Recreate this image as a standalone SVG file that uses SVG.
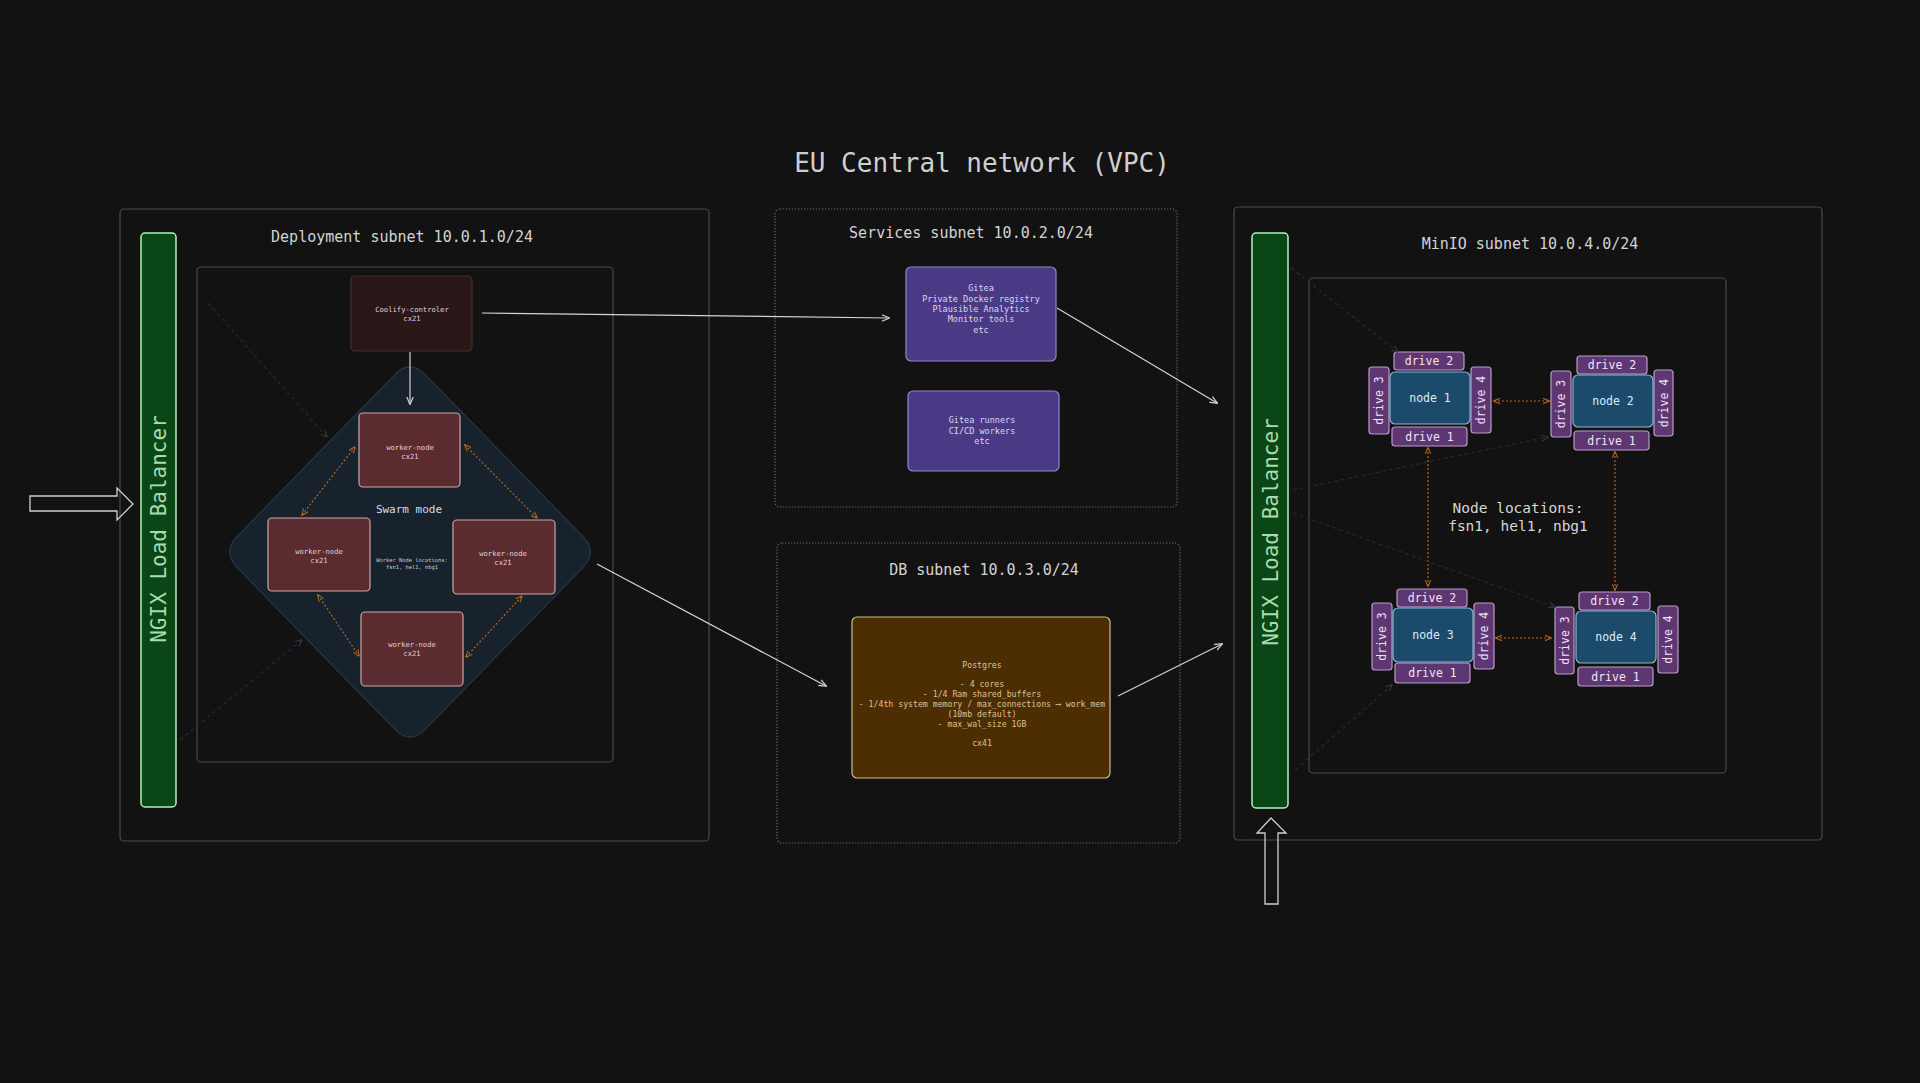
<svg xmlns="http://www.w3.org/2000/svg" width="1920" height="1083" viewBox="0 0 1920 1083">
<defs>
<style>
text{font-family:"DejaVu Sans Mono","Liberation Mono",monospace;text-anchor:middle;dominant-baseline:central}
.title{font-size:26px;fill:#cfcfcf}
.sub{font-size:15px;fill:#d2d2d2}
.box{fill:#121212;stroke:#4a4a4a;stroke-width:1.2}
.dotbox{fill:#121212;stroke:#6a6a6a;stroke-width:1.2;stroke-dasharray:1.2 1.8}
.lb{fill:#0b4716;stroke:#b2f2bb;stroke-width:1.5}
.lbt{font-size:21px;fill:#a6dcae}
.coolify{fill:#2a1718;stroke:#4d2a2c;stroke-width:1.2}
.worker{fill:#5a2b2f;stroke:#c9a7a9;stroke-width:1.2}
.wt{font-size:7.2px;fill:#e6cfd0}
.svc{fill:#4a3a86;stroke:#9486c6;stroke-width:1.2}
.st{font-size:8.5px;fill:#ddd5f5}
.pg{fill:#4d2e03;stroke:#cdbb8e;stroke-width:1.2}
.pt{font-size:8.2px;fill:#dcc38c}
.drive{fill:#5e3672;stroke:#b99bc9;stroke-width:1.2}
.dt{font-size:11.5px;fill:#f2e4f4}
.node{fill:#1b4a6b;stroke:#8cb5d2;stroke-width:1.2}
.nt{font-size:11.5px;fill:#dbeaf6}
.conn{fill:none;stroke:#d4d4d4;stroke-width:1.2}
.dash{fill:none;stroke:#b5651d;stroke-width:1.2;stroke-dasharray:2 2}
.faint{fill:none;stroke:#222a32;stroke-width:1.2;stroke-dasharray:4 3}
.block{fill:none;stroke:#d0d0d0;stroke-width:1.3}
</style>
<marker id="ah" viewBox="0 0 10 10" refX="9" refY="5" markerWidth="8" markerHeight="8" orient="auto-start-reverse" markerUnits="userSpaceOnUse">
<path d="M0,1 L10,5 L0,9" fill="none" stroke="#d4d4d4" stroke-width="1.5"/>
</marker>
<marker id="oh" viewBox="0 0 10 10" refX="9" refY="5" markerWidth="7" markerHeight="7" orient="auto-start-reverse" markerUnits="userSpaceOnUse">
<path d="M0,1 L10,5 L0,9" fill="none" stroke="#b5651d" stroke-width="1.5"/>
</marker>
<marker id="fh" viewBox="0 0 10 10" refX="9" refY="5" markerWidth="7" markerHeight="7" orient="auto-start-reverse" markerUnits="userSpaceOnUse">
<path d="M0,1 L10,5 L0,9" fill="none" stroke="#2c3e50" stroke-width="1.5"/>
</marker>
</defs>
<rect x="0" y="0" width="1920" height="1083" fill="#121212"/>

<text class="title" x="982" y="163">EU Central network (VPC)</text>

<g id="deployment-subnet">
<rect class="box" x="120" y="209" width="589" height="632" rx="4"/>
<text class="sub" x="402" y="237">Deployment subnet 10.0.1.0/24</text>
<rect class="box" x="197" y="267" width="416" height="495" rx="4"/>
</g>

<g id="lb-left">
<rect class="lb" x="141" y="233" width="35" height="574" rx="4"/>
<text class="lbt" transform="translate(159,529) rotate(-90)">NGIX Load Balancer</text>
</g>

<g id="swarm">
<path d="M 394.6 374.8 Q 410 359 425.4 374.8 L 582.6 536.2 Q 598 552 582.6 567.8 L 425.4 729.2 Q 410 745 394.6 729.2 L 237.4 567.8 Q 222 552 237.4 536.2 Z" fill="#17222c" stroke="#283845" stroke-width="1.2"/>
<text x="409" y="509" style="font-size:11px;fill:#d8dde2">Swarm mode</text>
<text x="412" y="560" style="font-size:5.4px;fill:#c4ccd4">Worker Node locations:</text>
<text x="412" y="567" style="font-size:5.4px;fill:#c4ccd4">fsn1, hel1, nbg1</text>
</g>

<g id="coolify-controller">
<rect class="coolify" x="351" y="276" width="121" height="75" rx="4"/>
<text class="wt" x="412" y="309">Coolify-controler</text>
<text class="wt" x="412" y="318">cx21</text>
</g>

<g id="worker-top">
<rect class="worker" x="359" y="413" width="101" height="74" rx="4"/>
<text class="wt" x="410" y="447">worker-node</text>
<text class="wt" x="410" y="456">cx21</text>
</g>
<g id="worker-left">
<rect class="worker" x="268" y="518" width="102" height="73" rx="4"/>
<text class="wt" x="319" y="551">worker-node</text>
<text class="wt" x="319" y="560">cx21</text>
</g>
<g id="worker-right">
<rect class="worker" x="453" y="520" width="102" height="74" rx="4"/>
<text class="wt" x="503" y="553">worker-node</text>
<text class="wt" x="503" y="562">cx21</text>
</g>
<g id="worker-bottom">
<rect class="worker" x="361" y="612" width="102" height="74" rx="4"/>
<text class="wt" x="412" y="644">worker-node</text>
<text class="wt" x="412" y="653">cx21</text>
</g>

<g id="services-subnet">
<rect class="dotbox" x="775" y="209" width="402" height="298" rx="5"/>
<text class="sub" x="971" y="233">Services subnet 10.0.2.0/24</text>
</g>
<g id="gitea">
<rect class="svc" x="906" y="267" width="150" height="94" rx="5"/>
<text class="st" x="981" y="288">Gitea</text>
<text class="st" x="981" y="298.5">Private Docker registry</text>
<text class="st" x="981" y="308.5">Plausible Analytics</text>
<text class="st" x="981" y="318.5">Monitor tools</text>
<text class="st" x="981" y="329.5">etc</text>
</g>
<g id="gitea-runners">
<rect class="svc" x="908" y="391" width="151" height="80" rx="5"/>
<text class="st" x="982" y="420">Gitea runners</text>
<text class="st" x="982" y="431">CI/CD workers</text>
<text class="st" x="982" y="441">etc</text>
</g>

<g id="db-subnet">
<rect class="dotbox" x="777" y="543" width="403" height="300" rx="5"/>
<text class="sub" x="984" y="570">DB subnet 10.0.3.0/24</text>
</g>
<g id="postgres">
<rect class="pg" x="852" y="617" width="258" height="161" rx="5"/>
<text class="pt" x="982" y="665">Postgres</text>
<text class="pt" x="982" y="684">- 4 cores</text>
<text class="pt" x="982" y="694">- 1/4 Ram shared_buffers</text>
<text class="pt" x="982" y="704">- 1/4th system memory / max_connections ⟶ work_mem</text>
<text class="pt" x="982" y="713.5">(10mb default)</text>
<text class="pt" x="982" y="723.5">- max_wal_size 1GB</text>
<text class="pt" x="982" y="742.5">cx41</text>
</g>

<g id="minio-subnet">
<rect class="box" x="1234" y="207" width="588" height="633" rx="4"/>
<text class="sub" x="1530" y="244">MinIO subnet 10.0.4.0/24</text>
<rect class="box" x="1309" y="278" width="417" height="495" rx="4"/>
<text x="1518" y="508" style="font-size:14.5px;fill:#d6d6d6">Node locations:</text>
<text x="1518" y="526" style="font-size:14.5px;fill:#d6d6d6">fsn1, hel1, nbg1</text>
</g>

<g id="lb-right">
<rect class="lb" x="1252" y="233" width="36" height="575" rx="4"/>
<text class="lbt" transform="translate(1271,532) rotate(-90)">NGIX Load Balancer</text>
</g>

<g id="minio-node-1">
<rect class="drive" x="1394" y="352" width="70" height="18" rx="3"/>
<text class="dt" x="1429" y="361">drive 2</text>
<rect class="drive" x="1369" y="367" width="20" height="67" rx="3"/>
<text class="dt" transform="translate(1379,400.5) rotate(-90)">drive 3</text>
<rect class="drive" x="1471" y="367" width="20" height="66" rx="3"/>
<text class="dt" transform="translate(1481,400) rotate(-90)">drive 4</text>
<rect class="drive" x="1392" y="427" width="75" height="19" rx="3"/>
<text class="dt" x="1429.5" y="436.5">drive 1</text>
<rect class="node" x="1390" y="372" width="80" height="52" rx="5"/>
<text class="nt" x="1430" y="398">node 1</text>
</g>

<g id="minio-node-2">
<rect class="drive" x="1577" y="356" width="70" height="18" rx="3"/>
<text class="dt" x="1612" y="365">drive 2</text>
<rect class="drive" x="1551" y="371" width="20" height="66" rx="3"/>
<text class="dt" transform="translate(1561,404) rotate(-90)">drive 3</text>
<rect class="drive" x="1654" y="370" width="19" height="66" rx="3"/>
<text class="dt" transform="translate(1663.5,403) rotate(-90)">drive 4</text>
<rect class="drive" x="1574" y="431" width="75" height="19" rx="3"/>
<text class="dt" x="1611.5" y="440.5">drive 1</text>
<rect class="node" x="1573" y="375" width="80" height="52" rx="5"/>
<text class="nt" x="1613" y="401">node 2</text>
</g>

<g id="minio-node-3">
<rect class="drive" x="1397" y="589" width="70" height="18" rx="3"/>
<text class="dt" x="1432" y="598">drive 2</text>
<rect class="drive" x="1372" y="603" width="20" height="67" rx="3"/>
<text class="dt" transform="translate(1382,636.5) rotate(-90)">drive 3</text>
<rect class="drive" x="1474" y="603" width="20" height="66" rx="3"/>
<text class="dt" transform="translate(1484,636) rotate(-90)">drive 4</text>
<rect class="drive" x="1395" y="663" width="75" height="20" rx="3"/>
<text class="dt" x="1432.5" y="673">drive 1</text>
<rect class="node" x="1393" y="608" width="80" height="54" rx="5"/>
<text class="nt" x="1433" y="635">node 3</text>
</g>

<g id="minio-node-4">
<rect class="drive" x="1579" y="592" width="71" height="18" rx="3"/>
<text class="dt" x="1614.5" y="601">drive 2</text>
<rect class="drive" x="1555" y="607" width="19" height="67" rx="3"/>
<text class="dt" transform="translate(1564.5,640.5) rotate(-90)">drive 3</text>
<rect class="drive" x="1658" y="606" width="20" height="67" rx="3"/>
<text class="dt" transform="translate(1668,639.5) rotate(-90)">drive 4</text>
<rect class="drive" x="1578" y="667" width="75" height="19" rx="3"/>
<text class="dt" x="1615.5" y="676.5">drive 1</text>
<rect class="node" x="1576" y="611" width="80" height="52" rx="5"/>
<text class="nt" x="1616" y="637">node 4</text>
</g>

<g id="input-arrow-left">
<path class="block" d="M30,496 L117,496 L117,488 L133,504 L117,520 L117,511 L30,511 Z"/>
</g>
<g id="input-arrow-bottom">
<path class="block" d="M1271,818 L1286,833 L1278,833 L1278,904 L1265,904 L1265,833 L1257,833 Z"/>
</g>

<g id="connectors">
<line class="conn" x1="482" y1="313" x2="889" y2="318" marker-end="url(#ah)"/>
<line class="conn" x1="410" y1="352" x2="410" y2="404" marker-end="url(#ah)"/>
<line class="conn" x1="597" y1="564" x2="826" y2="686" marker-end="url(#ah)"/>
<line class="conn" x1="1057" y1="308" x2="1217" y2="403" marker-end="url(#ah)"/>
<line class="conn" x1="1118" y1="696" x2="1222" y2="644" marker-end="url(#ah)"/>

<line class="dash" x1="355" y1="447" x2="302" y2="515" marker-start="url(#oh)" marker-end="url(#oh)"/>
<line class="dash" x1="465" y1="445" x2="537" y2="518" marker-start="url(#oh)" marker-end="url(#oh)"/>
<line class="dash" x1="318" y1="595" x2="359" y2="656" marker-start="url(#oh)" marker-end="url(#oh)"/>
<line class="dash" x1="466" y1="657" x2="522" y2="596" marker-start="url(#oh)" marker-end="url(#oh)"/>

<line class="dash" x1="1494" y1="401" x2="1549" y2="401" marker-start="url(#oh)" marker-end="url(#oh)"/>
<line class="dash" x1="1496" y1="638" x2="1551" y2="638" marker-start="url(#oh)" marker-end="url(#oh)"/>
<line class="dash" x1="1428" y1="448" x2="1428" y2="586" marker-start="url(#oh)" marker-end="url(#oh)"/>
<line class="dash" x1="1615" y1="452" x2="1615" y2="590" marker-start="url(#oh)" marker-end="url(#oh)"/>

<line class="faint" x1="208" y1="303" x2="327" y2="437" marker-end="url(#fh)"/>
<line class="faint" x1="180" y1="740" x2="302" y2="640" marker-end="url(#fh)"/>
<line class="faint" x1="1291" y1="268" x2="1398" y2="352" marker-end="url(#fh)"/>
<line class="faint" x1="1293" y1="490" x2="1548" y2="437" marker-end="url(#fh)"/>
<line class="faint" x1="1293" y1="513" x2="1555" y2="607" marker-end="url(#fh)"/>
<line class="faint" x1="1295" y1="770" x2="1392" y2="685" marker-end="url(#fh)"/>
</g>
</svg>
